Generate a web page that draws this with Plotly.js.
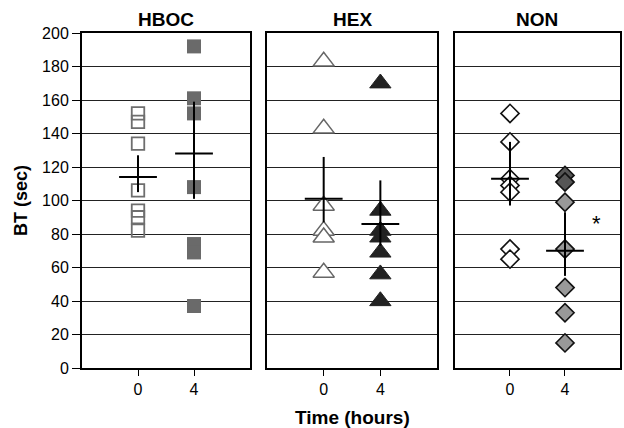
<!DOCTYPE html>
<html><head><meta charset="utf-8">
<script src="https://cdn.plot.ly/plotly-3.0.1.min.js"></script>
<style>html,body{margin:0;padding:0;background:#fff}</style>
</head><body><div id="chart" style="width:624px;height:428px"></div>
<script>
const groups = ["HBOC", "HEX", "NON"];
const timeTicks = [0, 4];
const tickLabels = ["0", "4"];
const yTicks = [0, 20, 40, 60, 80, 100, 120, 140, 160, 180, 200];

const hboc0 = [152, 147, 134, 106, 94, 90, 82];
const hboc4 = [192, 161, 152, 108, 74, 69, 37];
const hex0 = [183, 143, 97, 82, 78, 57];
const hex4 = [170, 94, 82, 78, 69, 56, 40];
const non0 = [152, 135, 113, 109, 105, 71, 65];
const non4Dark = [115, 111];
const non4 = [99, 71, 48, 33, 15];

const meanHboc = [114, 128];
const errUpHboc = [13, 31];
const errDnHboc = [9, 27];
const meanHex = [101, 86];
const errUpHex = [25, 26];
const errDnHex = [14, 13];
const meanNon = [113, 70];
const errUpNon = [22, 23];
const errDnNon = [16, 15];

const FONT = 'Liberation Sans, Arial';

function pts(x, ys, ax, marker) {
  return {x: ys.map(() => x), y: ys, xaxis: 'x' + ax, yaxis: 'y' + ax,
    type: 'scatter', mode: 'markers', marker: marker, hoverinfo: 'skip', showlegend: false};
}
function meanTrace(m, up, dn, ax) {
  return {x: timeTicks, y: m, xaxis: 'x' + ax, yaxis: 'y' + ax, type: 'scatter', mode: 'markers',
    marker: {symbol: 'line-ew', size: 27, line: {color: '#000', width: 2}},
    error_y: {type: 'data', symmetric: false, array: up, arrayminus: dn, width: 0, thickness: 2, color: '#000'},
    showlegend: false, hoverinfo: 'skip'};
}

const traces = [
  pts(0, hboc0, '', {symbol: 'square-open', size: 12.5, color: '#6e6e6e', line: {width: 1.8, color: '#6e6e6e'}}),
  pts(4, hboc4, '', {symbol: 'square', size: 14, color: '#6a6a6a'}),
  meanTrace(meanHboc, errUpHboc, errDnHboc, ''),
  pts(0, hex0, '2', {symbol: 'triangle-up', size: 18.5, color: '#fff', line: {width: 1.5, color: '#666'}}),
  pts(4, hex4, '2', {symbol: 'triangle-up', size: 18.5, color: '#222', line: {width: 1, color: '#222'}}),
  meanTrace(meanHex, errUpHex, errDnHex, '2'),
  pts(0, non0, '3', {symbol: 'diamond', size: 14, color: '#fff', line: {width: 1.6, color: '#111'}}),
  pts(4, non4Dark, '3', {symbol: 'diamond', size: 14, color: '#555', line: {width: 1.6, color: '#111'}}),
  pts(4, non4, '3', {symbol: 'diamond', size: 14, color: '#999', line: {width: 1.6, color: '#111'}}),
  meanTrace(meanNon, errUpNon, errDnNon, '3')
];

const xbase = {range: [-4, 8], tickvals: timeTicks, ticktext: tickLabels, ticks: 'outside', ticklen: 6,
  tickcolor: '#000', showgrid: false, zeroline: false, showline: true, linecolor: '#000', linewidth: 2,
  mirror: true, tickfont: {family: FONT, size: 16, color: '#000'}, fixedrange: true};
const ybase = {range: [0, 200], tickvals: yTicks, showgrid: true, gridcolor: '#222', gridwidth: 1,
  zeroline: false, showline: true, linecolor: '#000', linewidth: 2, mirror: true, fixedrange: true};

const layout = {
  width: 624, height: 428,
  margin: {l: 82, r: 4, t: 33, b: 60},
  paper_bgcolor: '#fff', plot_bgcolor: '#fff',
  showlegend: false,
  xaxis: Object.assign({}, xbase, {domain: [0, 0.3123], anchor: 'y'}),
  xaxis2: Object.assign({}, xbase, {domain: [0.3439, 0.6599], anchor: 'y2'}),
  xaxis3: Object.assign({}, xbase, {domain: [0.6933, 1], anchor: 'y3'}),
  yaxis: Object.assign({}, ybase, {anchor: 'x', ticks: 'outside', ticklen: 8, tickcolor: '#000',
    tickfont: {family: FONT, size: 16, color: '#000'},
    title: {text: 'BT (sec)', font: {family: FONT, size: 18, color: '#000', weight: 'bold'}, standoff: 10}}),
  yaxis2: Object.assign({}, ybase, {anchor: 'x2', showticklabels: false}),
  yaxis3: Object.assign({}, ybase, {anchor: 'x3', showticklabels: false}),
  annotations: [
    ...groups.map((g, i) => ({text: '<b>' + g + '</b>', xref: (i ? 'x' + (i + 1) : 'x') + ' domain', yref: 'paper',
      x: 0.5, y: 1, yshift: 14, showarrow: false, yanchor: 'middle',
      font: {family: FONT, size: 19, color: '#000'}})),
    {text: '<b>Time (hours)</b>', xref: 'x2', yref: 'paper', x: 2, y: 0, yshift: -49, showarrow: false,
      yanchor: 'middle', font: {family: FONT, size: 19, color: '#000'}},
    {text: '*', xref: 'x3', yref: 'y3', x: 6.3, y: 86, showarrow: false,
      font: {family: FONT, size: 22, color: '#000'}}
  ]
};

Plotly.newPlot('chart', traces, layout, {staticPlot: true, displayModeBar: false});
</script></body></html>
